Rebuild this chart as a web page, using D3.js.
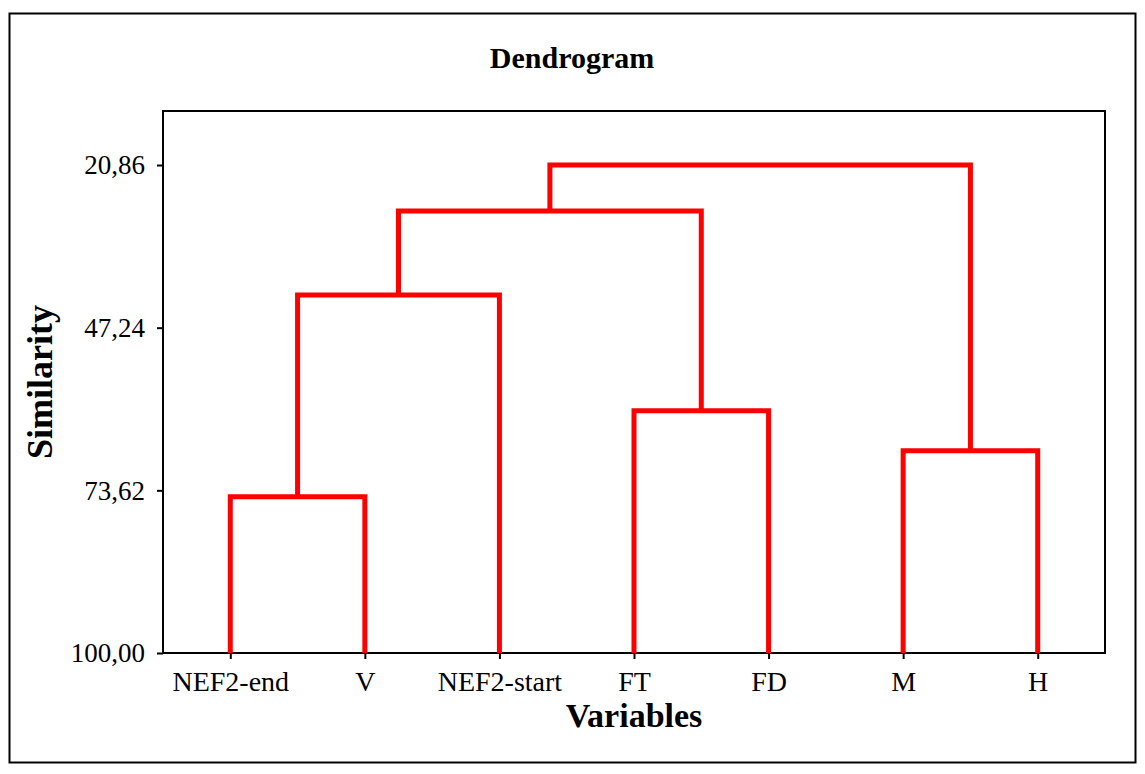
<!DOCTYPE html>
<html>
<head>
<meta charset="utf-8">
<script src="https://cdn.jsdelivr.net/npm/d3@7"></script>
<style>
  html, body { margin: 0; padding: 0; background: #fff; }
  svg { display: block; }
  text { font-family: "Liberation Serif", "Times New Roman", serif; fill: #000; }
</style>
</head>
<body>
<svg id="chart" width="1145" height="774"></svg>
<script>
// Leaf variables, left to right
const leaves = ["NEF2-end", "V", "NEF2-start", "FT", "FD", "M", "H"];

// Agglomeration steps: clusters are numbered 0..6 for leaves, 7.. for merges
const mergeLeft  = [0, 5, 3, 7, 10, 11];
const mergeRight = [1, 6, 4, 2, 9, 8];
const mergeSimilarity = [74.65, 67.19, 60.71, 41.94, 28.32, 20.86];

// Similarity axis ticks
const yTickValues = [20.86, 47.24, 73.62, 100.00];
const yTickLabels = ["20,86", "47,24", "73,62", "100,00"];

const leafSimilarity = 100;
const axisTop = 12.1;

const svg = d3.select("#chart");
const plot = { left: 163, right: 1105, top: 111, bottom: 653 };

// Outer frame
svg.append("rect")
  .attr("x", 9.5).attr("y", 13.5)
  .attr("width", 1126).attr("height", 749)
  .attr("fill", "none").attr("stroke", "#000").attr("stroke-width", 2);

const x = d3.scalePoint().domain(leaves).range([plot.left, plot.right]).padding(0.5);
const y = d3.scaleLinear().domain([leafSimilarity, axisTop]).range([plot.bottom, plot.top]);

// Cluster positions: leaves first, then each merge
const nodeX = leaves.map(d => x(d));
const nodeS = leaves.map(() => leafSimilarity);

const links = [];
mergeLeft.forEach((l, i) => {
  const r = mergeRight[i];
  const s = mergeSimilarity[i];
  links.push([[nodeX[l], nodeS[l]], [nodeX[l], s], [nodeX[r], s], [nodeX[r], nodeS[r]]]);
  nodeX.push((nodeX[l] + nodeX[r]) / 2);
  nodeS.push(s);
});

// Axes
const yAxis = d3.axisLeft(y)
  .tickValues(yTickValues)
  .tickFormat((d, i) => yTickLabels[i])
  .tickSize(6).tickPadding(12);

const gy = svg.append("g")
  .attr("transform", `translate(${plot.left},0)`)
  .call(yAxis);
gy.select(".domain").remove();
gy.selectAll(".tick line").attr("stroke", "#000").attr("stroke-width", 2);
gy.selectAll(".tick text")
  .attr("font-size", 27)
  .attr("font-family", "Liberation Serif, Times New Roman, serif")
  .attr("dy", "0.33em");

const xAxis = d3.axisBottom(x).tickSize(6).tickPadding(12);
const gx = svg.append("g")
  .attr("transform", `translate(0,${plot.bottom})`)
  .call(xAxis);
gx.select(".domain").remove();
gx.selectAll(".tick line").attr("stroke", "#000").attr("stroke-width", 2);
gx.selectAll(".tick text")
  .attr("font-size", 28)
  .attr("font-family", "Liberation Serif, Times New Roman, serif");

// Plot frame
svg.append("rect")
  .attr("x", plot.left).attr("y", plot.top)
  .attr("width", plot.right - plot.left).attr("height", plot.bottom - plot.top)
  .attr("fill", "none").attr("stroke", "#000").attr("stroke-width", 2);

// Dendrogram links
const line = d3.line().x(d => d[0]).y(d => y(d[1]));
svg.append("g")
  .selectAll("path")
  .data(links)
  .join("path")
  .attr("d", line)
  .attr("fill", "none")
  .attr("stroke", "#ff0000")
  .attr("stroke-width", 5)
  .attr("stroke-linejoin", "miter");

// Titles
svg.append("text")
  .attr("x", 572).attr("y", 68)
  .attr("text-anchor", "middle")
  .attr("font-size", 30).attr("font-weight", "bold")
  .text("Dendrogram");

svg.append("text")
  .attr("x", (plot.left + plot.right) / 2).attr("y", 727)
  .attr("text-anchor", "middle")
  .attr("font-size", 34).attr("font-weight", "bold")
  .text("Variables");

svg.append("text")
  .attr("transform", `translate(52,${(plot.top + plot.bottom) / 2}) rotate(-90)`)
  .attr("text-anchor", "middle")
  .attr("font-size", 36).attr("font-weight", "bold")
  .text("Similarity");
</script>
</body>
</html>
